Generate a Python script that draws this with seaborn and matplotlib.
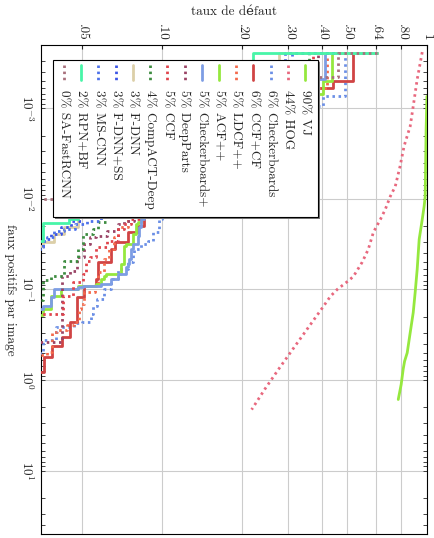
import numpy as np
import pandas as pd
import matplotlib
matplotlib.use("Agg")
import matplotlib.pyplot as plt
import seaborn as sns
from matplotlib.patches import Rectangle
from matplotlib.lines import Line2D
from matplotlib.ticker import NullLocator, LogLocator, NullFormatter

sns.set_style("white")
plt.rcParams["font.family"] = ["cmr10", "DejaVu Serif"]
plt.rcParams["mathtext.fontset"] = "cm"
plt.rcParams["axes.unicode_minus"] = False
plt.rcParams["font.size"] = 9.5

# legend order (top to bottom in the unrotated plot)
methods = ["VJ", "HOG", "Checkerboards", "CCF+CF", "LDCF++", "ACF++", "Checkerboards+",
           "DeepParts", "CCF", "CompACT-Deep", "F-DNN", "F-DNN+SS", "MS-CNN", "RPN+BF",
           "SA-FastRCNN"]
scores = [90, 44, 6, 6, 5, 5, 5, 5, 5, 4, 3, 3, 3, 2, 0]
colors = ["#95e83e", "#e8687e", "#6b8fe6", "#d04444", "#f46a4c", "#95e83e", "#7d9de4",
          "#9a4466", "#e0444c", "#3d8c40", "#dccfa8", "#3c55e6", "#4e72ea", "#48f5a8",
          "#a8707c"]
dotted = [False, True, True, False, True, False, False, True, True, True, False, True,
          True, False, True]

mr_ticks = [.05, .10, .20, .30, .40, .50, .64, .80, 1]
mr_labels = [".05", ".10", ".20", ".30", ".40", ".50", ".64", ".80", "1"]
fppi_ticks = [1e-3, 1e-2, 1e-1, 1, 10]
fppi_labels = [r"$10^{-3}$", r"$10^{-2}$", r"$10^{-1}$", r"$10^{0}$", r"$10^{1}$"]

# miss rate / false positives per image, per detector
vj_mr = [0.998, 0.991, 0.983, 0.974, 0.958, 0.933, 0.917, 0.901, 0.886, 0.863, 0.841,
         0.822, 0.812, 0.798, 0.778]
vj_fppi = [7.4e-4, 1.7e-3, 9.4e-3, 0.0121, 0.0169, 0.028, 0.060, 0.108, 0.18, 0.30, 0.50,
           0.62, 0.76, 1.12, 1.64]

hog_mr = [0.958, 0.917, 0.886, 0.863, 0.819, 0.79, 0.758, 0.726, 0.695, 0.666, 0.627,
          0.60, 0.569, 0.527, 0.50, 0.458, 0.432, 0.399, 0.352, 0.311, 0.275, 0.244,
          0.218]
hog_fppi = [2.4e-4, 4.8e-4, 9.5e-4, 1.58e-3, 2.6e-3, 4.4e-3, 7.3e-3, 9.4e-3, 0.0131,
            0.0169, 0.0234, 0.036, 0.050, 0.072, 0.082, 0.10, 0.119, 0.166, 0.277, 0.46,
            0.764, 1.27, 2.12]

checker_mr = [0.648, 0.491, 0.406, 0.30, 0.18, 0.12, 0.1033, 0.10, 0.0973, 0.093, 0.0884,
              0.0832, 0.0784, 0.0777, 0.0744, 0.0686, 0.0642, 0.0604, 0.0572, 0.0549,
              0.054, 0.05, 0.0465, 0.0399, 0.0356, 0.03]
checker_fppi = [2.47e-4, 7.4e-4, 9.5e-4, 2e-3, 5e-3, 0.0101, 0.0156, 0.0169, 0.0234,
                0.0295, 0.0318, 0.0362, 0.041, 0.050, 0.0601, 0.0776, 0.10, 0.129, 0.154,
                0.189, 0.226, 0.232, 0.257, 0.357, 0.497, 0.497]

ccfcf_mr = [0.648, 0.527, 0.44, 0.30, 0.17, 0.11, 0.087, 0.0854, 0.0811, 0.0744, 0.0668,
            0.0642, 0.0577, 0.0563, 0.0508, 0.0478, 0.045, 0.042, 0.0386, 0.0359, 0.03]
ccfcf_fppi = [2.47e-4, 5e-4, 6e-4, 1.5e-3, 4e-3, 0.0101, 0.0156, 0.020, 0.0234, 0.0302,
              0.0362, 0.050, 0.0776, 0.0926, 0.122, 0.226, 0.331, 0.425, 0.55, 0.82, 0.82]

ldcf_mr = [0.648, 0.42, 0.24, 0.14, 0.095, 0.08, 0.0744, 0.0686, 0.0659, 0.063, 0.0604,
           0.0577, 0.0558, 0.0508, 0.0495, 0.0486, 0.0465, 0.0438, 0.0403, 0.0386, 0.0386,
           0.0369, 0.03]
ldcf_fppi = [2.47e-4, 6e-4, 1.8e-3, 5e-3, 0.011, 0.0156, 0.0206, 0.0265, 0.0362, 0.0466,
             0.0647, 0.0881, 0.108, 0.146, 0.166, 0.226, 0.244, 0.277, 0.298, 0.314, 0.485,
             0.523, 0.523]

acf_mr = [0.648, 0.439, 0.406, 0.30, 0.18, 0.11, 0.0847, 0.0832, 0.0811, 0.0797, 0.0777,
          0.0731, 0.0718, 0.070, 0.0614, 0.0604, 0.0589, 0.0563, 0.0482, 0.0417, 0.0382,
          0.0382, 0.0356, 0.03]
acf_fppi = [2.47e-4, 5e-4, 7e-4, 1.5e-3, 4e-3, 0.0101, 0.0156, 0.0181, 0.0191, 0.0247,
            0.0318, 0.0335, 0.053, 0.0683, 0.0718, 0.0776, 0.0881, 0.0926, 0.10, 0.119,
            0.129, 0.166, 0.19, 0.19]

checkerp_mr = [0.648, 0.413, 0.389, 0.28, 0.17, 0.11, 0.0854, 0.0832, 0.0818, 0.0811,
               0.0777, 0.0763, 0.075, 0.0744, 0.0731, 0.0686, 0.0642, 0.0589, 0.0504,
               0.0482, 0.0392, 0.0382, 0.0356, 0.03]
checkerp_fppi = [2.47e-4, 4.8e-4, 6e-4, 1.5e-3, 4e-3, 0.0101, 0.0169, 0.0206, 0.0259,
                 0.0318, 0.0362, 0.0466, 0.053, 0.0572, 0.0683, 0.0776, 0.0881, 0.0926,
                 0.095, 0.10, 0.122, 0.154, 0.166, 0.166]

deepparts_mr = [0.648, 0.389, 0.22, 0.13, 0.095, 0.08, 0.0784, 0.0718, 0.0686, 0.0619,
                0.0567, 0.0535, 0.0508, 0.0478, 0.045, 0.042, 0.042, 0.03]
deepparts_fppi = [2.47e-4, 5e-4, 1.5e-3, 5e-3, 0.011, 0.0156, 0.0177, 0.0191, 0.0228,
                  0.0259, 0.0265, 0.0318, 0.044, 0.063, 0.0718, 0.095, 0.384, 0.384]

ccf_mr = [0.648, 0.37, 0.22, 0.14, 0.10, 0.087, 0.0832, 0.0763, 0.0718, 0.0686, 0.0619,
          0.0567, 0.0535, 0.0517, 0.0504, 0.0462, 0.0424, 0.03]
ccf_fppi = [2.47e-4, 6e-4, 1.8e-3, 5e-3, 0.011, 0.0156, 0.0169, 0.0191, 0.0217, 0.0295,
            0.0343, 0.044, 0.049, 0.0683, 0.0836, 0.119, 0.189, 0.189]

compact_mr = [0.648, 0.36, 0.2, 0.12, 0.08, 0.063, 0.0614, 0.0577, 0.0549, 0.0504, 0.0482,
              0.0427, 0.0382, 0.0356, 0.0356, 0.03]
compact_fppi = [2.47e-4, 4e-4, 1.5e-3, 5e-3, 0.011, 0.0156, 0.0181, 0.0217, 0.0247,
                0.0362, 0.049, 0.0718, 0.0796, 0.10, 0.13, 0.13]

fdnn_mr = [0.648, 0.277, 0.17, 0.11, 0.07, 0.0495, 0.0482, 0.0427, 0.0392, 0.0356, 0.03]
fdnn_fppi = [2.47e-4, 4.5e-4, 1.5e-3, 4e-3, 9e-3, 0.0156, 0.0206, 0.0247, 0.0302, 0.0335,
             0.0335]

fdnnss_mr = [0.648, 0.29, 0.16, 0.10, 0.07, 0.0572, 0.0495, 0.0454, 0.0417, 0.0382,
             0.0356, 0.03]
fdnnss_fppi = [2.47e-4, 4e-4, 1.4e-3, 4e-3, 9e-3, 0.016, 0.0177, 0.0206, 0.0247, 0.028,
               0.0343, 0.0343]

mscnn_mr = [0.648, 0.31, 0.18, 0.11, 0.075, 0.0604, 0.0589, 0.052, 0.047, 0.0427, 0.0392,
            0.0369, 0.0356, 0.03]
mscnn_fppi = [2.47e-4, 3.5e-4, 1.2e-3, 3.5e-3, 8e-3, 0.0156, 0.0177, 0.0191, 0.0217,
              0.0228, 0.0265, 0.0295, 0.036, 0.036]

rpn_mr = [0.648, 0.221, 0.15, 0.10, 0.07, 0.0495, 0.0482, 0.0446, 0.0356, 0.03]
rpn_fppi = [2.47e-4, 4.2e-4, 1.2e-3, 3e-3, 7e-3, 0.0156, 0.0169, 0.0186, 0.0295, 0.0295]

safast_mr = [0.648, 0.46, 0.25, 0.12, 0.06, 0.0392, 0.03]
safast_fppi = [2.47e-4, 4.5e-4, 1.5e-3, 4e-3, 7e-3, 0.0101, 0.0101]

series = {
    "VJ": (vj_mr, vj_fppi), "HOG": (hog_mr, hog_fppi),
    "Checkerboards": (checker_mr, checker_fppi), "CCF+CF": (ccfcf_mr, ccfcf_fppi),
    "LDCF++": (ldcf_mr, ldcf_fppi), "ACF++": (acf_mr, acf_fppi),
    "Checkerboards+": (checkerp_mr, checkerp_fppi),
    "DeepParts": (deepparts_mr, deepparts_fppi), "CCF": (ccf_mr, ccf_fppi),
    "CompACT-Deep": (compact_mr, compact_fppi), "F-DNN": (fdnn_mr, fdnn_fppi),
    "F-DNN+SS": (fdnnss_mr, fdnnss_fppi), "MS-CNN": (mscnn_mr, mscnn_fppi),
    "RPN+BF": (rpn_mr, rpn_fppi), "SA-FastRCNN": (safast_mr, safast_fppi),
}
smooth = ["VJ", "HOG"]

df = pd.concat([pd.DataFrame({"method": m, "mr": series[m][0], "fppi": series[m][1]})
                for m in methods], ignore_index=True)

dot_style = (0, (0.9, 1.3))

fig = plt.figure(figsize=(4.35, 5.38), dpi=100)
ax = fig.add_axes([0.094, 0.0075, 0.888, 0.909])
ax.set_xscale("log")
ax.set_yscale("log")

for i, m in enumerate(methods):
    sub = df[df["method"] == m]
    sns.lineplot(data=sub, x="mr", y="fppi", ax=ax, color=colors[i], lw=2.0,
                 sort=False, estimator=None, legend=False,
                 linestyle=dot_style if dotted[i] else "-",
                 drawstyle="default" if m in smooth else "steps-post", zorder=3 + i * 0.01)

ax.set_xlim(0.035, 1)
ax.set_ylim(50, 2e-4)

ax.xaxis.tick_top()
ax.set_xticks(mr_ticks)
ax.set_xticklabels(mr_labels, rotation=-90)
ax.xaxis.set_minor_locator(NullLocator())
ax.set_yticks(fppi_ticks)
ax.set_yticklabels(fppi_labels, rotation=-90, va="center")
ax.yaxis.set_minor_locator(LogLocator(base=10, subs=np.arange(2, 10)))
ax.yaxis.set_minor_formatter(NullFormatter())
ax.tick_params(axis="x", which="both", direction="in", top=True, bottom=False,
               length=3, pad=3, labelsize=9.5)
ax.tick_params(axis="y", which="both", direction="in", left=True, right=True,
               length=3, pad=5, labelsize=9.5, width=0.6)
ax.grid(True, which="major", color="#cccccc", lw=0.8)
ax.set_axisbelow(True)
for s in ax.spines.values():
    s.set_linewidth(0.8)
    s.set_color("black")

ax.set_xlabel("taux de défaut")
ax.xaxis.set_label_position("top")
ax.xaxis.set_label_coords(0.5, 1.0675)
ax.xaxis.label.set_va("center")
ax.set_ylabel("faux positifs par image", rotation=-90, va="center", ha="center")
ax.yaxis.set_label_coords(-0.080, 0.5)

# legend box drawn by hand because the whole chart is turned on its side
lx0, ly0, lw_, lh_ = 0.031, 0.648, 0.687, 0.321
ax.add_patch(Rectangle((lx0 + 0.005, ly0 - 0.004), lw_, lh_, transform=ax.transAxes,
                       facecolor="#777777", edgecolor="none", zorder=9, clip_on=False))
ax.add_patch(Rectangle((lx0, ly0), lw_, lh_, transform=ax.transAxes, facecolor="white",
                       edgecolor="black", lw=0.8, zorder=10, clip_on=False))
step = 0.0446
for i, m in enumerate(methods):
    xc = 0.684 - i * step
    ax.add_line(Line2D([xc, xc], [0.959, 0.928], transform=ax.transAxes, color=colors[i],
                       lw=2.0, linestyle=dot_style if dotted[i] else "-", zorder=11))
    ax.text(xc, 0.908, f"{scores[i]}% {m}", transform=ax.transAxes, rotation=-90,
            ha="center", va="top", fontsize=9.5, zorder=11)

fig.savefig("out.png", dpi=100)
